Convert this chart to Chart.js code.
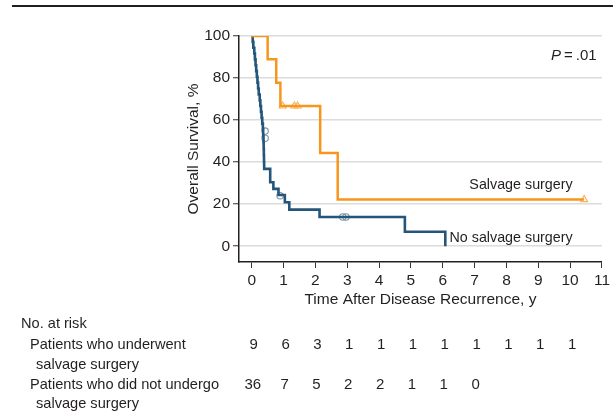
<!DOCTYPE html>
<html>
<head>
<meta charset="utf-8">
<script src="https://cdn.jsdelivr.net/npm/chart.js@4/dist/chart.umd.min.js"></script>
<style>
    html, body { margin: 0; padding: 0; background: #fff; }
    #wrap { position: relative; width: 613px; height: 412px; }
    #top-rule { position: absolute; left: 12px; right: 0; top: 5px; border-top: 2px solid #231f20; }
    canvas { display: block; }
</style>
</head>
<body>
<div id="wrap">
    <div id="top-rule"></div>
    <canvas id="km-chart" width="613" height="412"></canvas>
</div>
<script>
// x axis (years) and y axis (%) ticks
const yearTicks = [0, 1, 2, 3, 4, 5, 6, 7, 8, 9, 10, 11];
const survivalTicks = [0, 20, 40, 60, 80, 100];

// salvage surgery curve (step points) and censor marks
const salvageTime = [0, 0.50, 0.77, 0.90, 2.15, 2.70, 10.44];
const salvageSurv = [100, 88.9, 77.8, 66.7, 44.4, 22.2, 22.2];
const salvageCensorTime = [0.97, 1.34, 1.44, 10.44];
const salvageCensorSurv = [66.7, 66.7, 66.7, 22.2];

// no salvage surgery curve (step points) and censor marks
const noSalvageTime = [0, 0.03, 0.05, 0.08, 0.10, 0.12, 0.14, 0.16, 0.18, 0.20, 0.22, 0.25, 0.27,
    0.29, 0.31, 0.33, 0.35, 0.36, 0.37, 0.375, 0.38, 0.385, 0.39, 0.58, 0.68, 0.84, 1.04, 1.18,
    2.13, 4.81, 6.08];
const noSalvageSurv = [100, 97.2, 94.4, 91.7, 88.9, 86.1, 83.3, 80.6, 77.8, 75.0, 72.2, 69.4, 66.7,
    63.9, 61.1, 58.3, 55.6, 52.5, 49.4, 46.3, 43.2, 40.1, 36.8, 30.4, 27.3, 24.4, 20.9, 17.4,
    13.9, 6.9, 0];
const noSalvageCensorTime = [0.42, 0.42, 0.89, 2.86, 2.96];
const noSalvageCensorSurv = [54.8, 51.4, 24.0, 13.9, 13.9];

// number at risk table
const riskYears = [0, 1, 2, 3, 4, 5, 6, 7, 8, 9, 10];
const riskSalvage = [9, 6, 3, 1, 1, 1, 1, 1, 1, 1, 1];
const riskNoSalvage = [36, 7, 5, 2, 2, 1, 1, 0];

const ORANGE = '#f7961e';
const BLUE = '#24557a';
const TEXT = '#231f20';
const FONT = "'Liberation Sans', Arial, sans-serif";

function toPoints(xs, ys) {
    return xs.map((x, i) => ({ x: x, y: ys[i] }));
}

const annotationsPlugin = {
    id: 'kmText',
    afterDraw(chart) {
        const ctx = chart.ctx;
        const x = chart.scales.x;
        const y = chart.scales.y;
        ctx.save();
        ctx.fillStyle = TEXT;
        ctx.textBaseline = 'middle';

        // P value
        ctx.font = 'italic 15px ' + FONT;
        ctx.textAlign = 'left';
        const px = x.getPixelForValue(9.4);
        const py = y.getPixelForValue(90.4);
        ctx.fillText('P', px, py);
        const pw = ctx.measureText('P').width;
        ctx.font = '15px ' + FONT;
        ctx.fillText('\u2009=\u2009.01', px + pw, py);

        // curve labels
        ctx.font = '14.3px ' + FONT;
        ctx.textAlign = 'right';
        ctx.fillText('Salvage surgery', x.getPixelForValue(10.08), y.getPixelForValue(29.2));
        ctx.fillText('No salvage surgery', x.getPixelForValue(10.08), y.getPixelForValue(3.8));

        // risk table
        ctx.font = '14.6px ' + FONT;
        ctx.textAlign = 'left';
        ctx.fillText('No. at risk', 21, 324);
        ctx.fillText('Patients who underwent', 30, 345);
        ctx.fillText('salvage surgery', 36, 365);
        ctx.fillText('Patients who did not undergo', 30, 385);
        ctx.fillText('salvage surgery', 36, 404);

        ctx.font = '15px ' + FONT;
        ctx.textAlign = 'center';
        riskSalvage.forEach((n, i) => {
            ctx.fillText(String(n), x.getPixelForValue(riskYears[i]) + 2, 345);
        });
        riskNoSalvage.forEach((n, i) => {
            ctx.fillText(String(n), x.getPixelForValue(riskYears[i]) + 1, 385);
        });
        ctx.restore();
    }
};

new Chart(document.getElementById('km-chart'), {
    type: 'line',
    data: {
        datasets: [
            {
                label: 'Salvage surgery',
                data: toPoints(salvageTime, salvageSurv),
                borderColor: ORANGE,
                borderWidth: 2.5,
                stepped: 'before',
                pointRadius: 0,
                fill: false
            },
            {
                label: 'No salvage surgery',
                data: toPoints(noSalvageTime, noSalvageSurv),
                borderColor: BLUE,
                borderWidth: 2.6,
                stepped: 'before',
                pointRadius: 0,
                fill: false
            },
            {
                label: 'Salvage censored',
                data: toPoints(salvageCensorTime, salvageCensorSurv),
                showLine: false,
                pointStyle: 'triangle',
                pointRadius: 4,
                pointBorderWidth: 1.2,
                pointBorderColor: '#f9b262',
                pointBackgroundColor: 'rgba(255,255,255,0)'
            },
            {
                label: 'No salvage censored',
                data: toPoints(noSalvageCensorTime, noSalvageCensorSurv),
                showLine: false,
                pointStyle: 'circle',
                pointRadius: 3.2,
                pointBorderWidth: 1.1,
                pointBorderColor: '#7d93a5',
                pointBackgroundColor: 'rgba(255,255,255,0)'
            }
        ]
    },
    options: {
        responsive: false,
        animation: false,
        devicePixelRatio: 1,
        layout: { padding: { left: 180, top: 36, right: 10, bottom: 100 } },
        plugins: {
            legend: { display: false },
            tooltip: { enabled: false }
        },
        scales: {
            x: {
                type: 'linear',
                min: -0.4,
                max: 11,
                afterBuildTicks: scale => { scale.ticks = yearTicks.map(v => ({ value: v })); },
                afterFit: scale => { scale.height = 50; },
                grid: { drawOnChartArea: false, tickLength: 6, tickColor: '#333', tickWidth: 1 },
                border: { color: '#231f20', width: 1.5 },
                ticks: { color: TEXT, font: { family: FONT, size: 15.5 }, padding: 3, maxRotation: 0 },
                title: {
                    display: true,
                    text: 'Time After Disease Recurrence, y',
                    color: TEXT,
                    font: { family: FONT, size: 15.5 },
                    padding: { top: 2, bottom: 3 }
                }
            },
            y: {
                type: 'linear',
                min: -7.5,
                max: 100,
                afterBuildTicks: scale => { scale.ticks = survivalTicks.map(v => ({ value: v })); },
                afterFit: scale => { scale.width = 59; },
                grid: { color: '#dcdcdc', lineWidth: 1.5, tickLength: 6, tickColor: '#333', tickWidth: 1 },
                border: { color: '#231f20', width: 1.5 },
                ticks: { color: TEXT, font: { family: FONT, size: 15.5 }, padding: 3 },
                title: {
                    display: true,
                    text: 'Overall Survival, %',
                    color: TEXT,
                    font: { family: FONT, size: 15.5 },
                    padding: { top: 4, bottom: 2 }
                }
            }
        }
    },
    plugins: [annotationsPlugin]
});
</script>
</body>
</html>
